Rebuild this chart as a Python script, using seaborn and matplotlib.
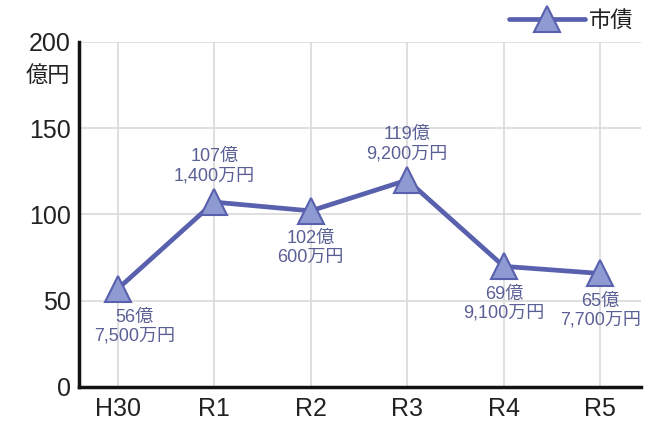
import matplotlib
matplotlib.use("Agg")
import matplotlib.pyplot as plt
import seaborn as sns
import pandas as pd

# 年度ごとの市債残高（億円）
years = ["H30", "R1", "R2", "R3", "R4", "R5"]
bonds = [56.75, 107.14, 102.06, 119.92, 69.91, 65.77]
label_above = [False, True, False, True, False, False]
label_dx = [12, 0, 0, 0, 0, 0]
y_ticks = [0, 50, 100, 150, 200]

sns.set_theme(style="white")
plt.rcParams["font.family"] = ["Liberation Sans", "Noto Sans CJK JP"]

line_color = "#5960ad"
marker_fill = "#8e9bd3"
text_color = "#5a5f95"

df = pd.DataFrame({"year": years, "bond": bonds, "pos": range(len(years))})

fig = plt.figure(figsize=(6.61, 4.28), dpi=100)
ax = fig.add_axes([0.1195, 0.096, 0.85, 0.806])

sns.lineplot(data=df, x="pos", y="bond", ax=ax, color=line_color, linewidth=3.4,
             marker="^", markersize=19, markerfacecolor=marker_fill,
             markeredgecolor=line_color, markeredgewidth=1.5, label="市債",
             zorder=3)

ax.set_xlim(-0.4, 5.42)
ax.set_ylim(0, 200)
ax.set_xticks(range(len(years)))
ax.set_xticklabels(years)
ax.set_yticks(y_ticks)
ax.set_xlabel("")
ax.set_ylabel("")
ax.tick_params(axis="both", labelsize=18, colors="#222222", length=0)
ax.tick_params(axis="y", pad=6)
ax.tick_params(axis="x", pad=7)
for lab in ax.get_xticklabels() + ax.get_yticklabels():
    lab.set_color("#222222")

ax.grid(True, color="#d9d9d9", linewidth=1.2, zorder=0)
for side in ["top", "right"]:
    ax.spines[side].set_visible(False)
for side in ["left", "bottom"]:
    ax.spines[side].set_color("#111111")
    ax.spines[side].set_linewidth(2.5)

# 単位
ax.text(-0.016, 0.9, "億円", transform=ax.transAxes, ha="right", va="center",
        fontsize=16, color="#222222")


def fmt(v):
    oku = int(v)
    man = int(round((v - oku) * 10000))
    return f"{oku}億\n{man:,}万円"


for i, (v, above, dx) in enumerate(zip(bonds, label_above, label_dx)):
    if above:
        ax.annotate(fmt(v), (i, v), xytext=(dx, 13), textcoords="offset points",
                    ha="center", va="bottom", fontsize=13, color=text_color,
                    linespacing=1.15)
    else:
        ax.annotate(fmt(v), (i, v), xytext=(dx, -14), textcoords="offset points",
                    ha="center", va="top", fontsize=13, color=text_color,
                    linespacing=1.15)

leg = ax.legend(loc="lower right", bbox_to_anchor=(1.005, 1.0), frameon=False,
                fontsize=16, handlelength=3.4, borderaxespad=0.05,
                handletextpad=0.2)
for t in leg.get_texts():
    t.set_color("#222222")

fig.savefig("out.png", dpi=100)
